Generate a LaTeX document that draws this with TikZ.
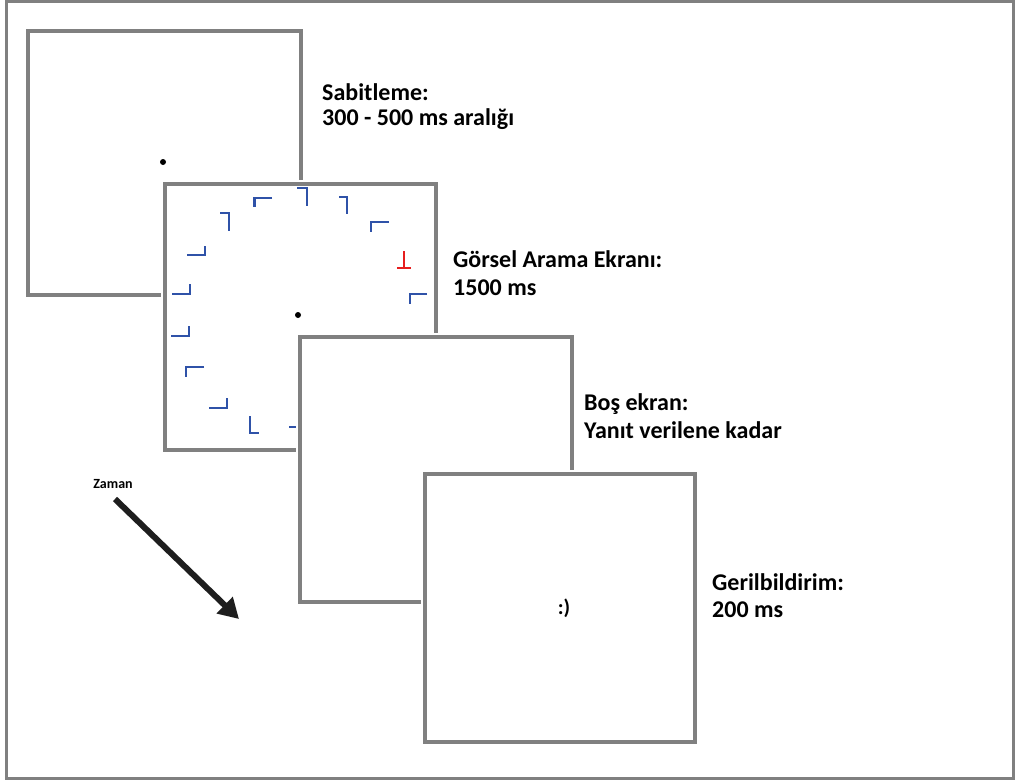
\documentclass[tikz,border=0pt]{standalone}
\usepackage{fontspec}
\setmainfont{Carlito}
\usetikzlibrary{arrows.meta}
\definecolor{framegray}{RGB}{128,128,128}
\definecolor{itemblue}{RGB}{47,82,168}
\definecolor{itemred}{RGB}{230,30,30}
\definecolor{arrowdark}{RGB}{30,30,30}
\tikzset{
  screen/.style={draw=framegray, line width=4pt, fill=white, preaction={draw=white, line width=8pt}},
  item/.style={draw=itemblue, line width=2.4pt},
  target/.style={draw=itemred, line width=2.4pt},
  lbl/.style={anchor=base west, inner sep=0pt, font=\fontsize{24}{28}\selectfont\bfseries},
  fixdot/.style={fill=black, circle, inner sep=0pt, minimum size=6pt},
}
\begin{document}
\begin{tikzpicture}[x=1pt, y=-1pt]
\useasboundingbox (0,0) rectangle (1015,782);
\fill[white] (0,0) rectangle (1015,782);
\draw[framegray, line width=3pt] (6.5,1.5) rectangle (1013,778.5);

% Fixation screen
\draw[screen] (28,31) rectangle (300.5,294.5);
\node[fixdot] (fix1) at (163,162) {};

% Search screen
\draw[screen] (165,183.5) rectangle (435.5,449.5);
\node[fixdot] (fix2) at (298,315) {};
\draw[item] (297,188) -- (307,188) -- (307,206);
\draw[item] (272,198) -- (254.5,198) -- (254.5,207);
\draw[item] (220,213) -- (229,213) -- (229,231);
\draw[item] (205,246) -- (205,255) -- (187,255);
\draw[item] (190,284) -- (190,294) -- (172,294);
\draw[item] (189,326) -- (189,336) -- (171,336);
\draw[item] (204,367) -- (186,367) -- (186,377);
\draw[item] (227,398) -- (227,408) -- (209,408);
\draw[item] (250,416) -- (250,433) -- (259,433);
\draw[item] (289,427) -- (297,427) -- (297,443);
\draw[item] (339,197) -- (347,197) -- (347,214);
\draw[item] (389,222) -- (371,222) -- (371,232);
\draw[target] (404,251) -- (404,268);
\draw[target] (397,268) -- (411,268);
\draw[item] (427,294) -- (410,294) -- (410,304);

% Blank screen
\draw[screen] (299.5,336.5) rectangle (572,601.5);

% Feedback screen
\draw[screen] (425,474) rectangle (695,742);
\node[inner sep=0pt, font=\fontsize{21}{24}\selectfont\bfseries] (smile) at (564,608) {:)};

% Labels
\node[lbl] (l1a) at (322,100.7) {Sabitleme:};
\node[lbl] (l1b) at (322,125) {300 - 500 ms aralığı};
\node[lbl] (l2a) at (453,267) {Görsel Arama Ekranı:};
\node[lbl] (l2b) at (453,295) {1500 ms};
\node[lbl] (l3a) at (584,410.7) {Boş ekran:};
\node[lbl] (l3b) at (584,438) {Yanıt verilene kadar};
\node[lbl] (l4a) at (712,590) {Gerilbildirim:};
\node[lbl] (l4b) at (712,617.7) {200 ms};

% Time arrow
\node[inner sep=0pt, font=\fontsize{14}{16}\selectfont\bfseries] (zaman) at (113,484) {Zaman};
\coordinate (t0) at (115,499);
\coordinate (t1) at (239,619);
\draw[arrowdark, line width=6pt, -{Triangle[length=20pt,width=22pt]}] (t0) -- (t1);
\end{tikzpicture}
\end{document}
